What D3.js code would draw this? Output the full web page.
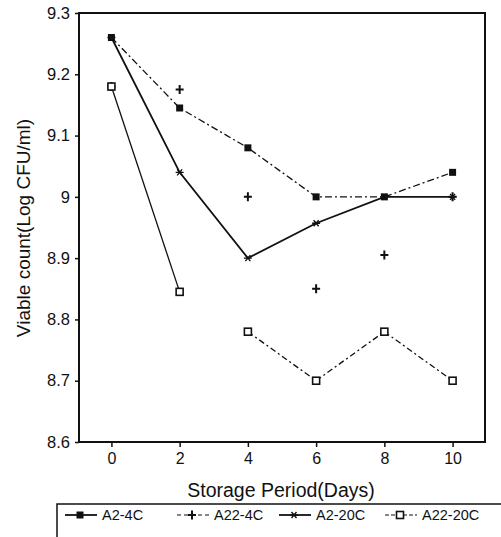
<!DOCTYPE html>
<html>
<head>
<meta charset="utf-8">
<script src="https://cdn.jsdelivr.net/npm/d3@7"></script>
<style>
  body { margin: 0; background: #fff; }
  svg { display: block; font-family: "Liberation Sans", Arial, sans-serif; }
</style>
</head>
<body>
<svg id="chart" width="501" height="537"></svg>
<script>
// storage days and viable counts (log CFU/ml)
const days = [0, 2, 4, 6, 8, 10];
const a2_4c = [9.26, 9.145, 9.08, 9.0, 9.0, 9.04];
const a22_4c = [9.18, 9.175, 9.0, 8.85, 8.905, 9.0];
const a2_20c = [9.26, 9.04, 8.9, 8.957, 9.0, 9.0];
const a22_20c = [9.18, 8.845, 8.78, 8.7, 8.78, 8.7];
const yTicks = [8.6, 8.7, 8.8, 8.9, 9, 9.1, 9.2, 9.3];
const seriesNames = ["A2-4C", "A22-4C", "A2-20C", "A22-20C"];

const svg = d3.select("#chart");
const margin = { left: 79, right: 16, top: 13, bottom: 95 };
const width = 501, height = 537;

const x = d3.scaleLinear().domain([-0.95, 10.95]).range([margin.left, width - margin.right]);
const y = d3.scaleLinear().domain([8.6, 9.3]).range([height - margin.bottom, margin.top]);

const series = [
  { name: seriesNames[0], values: a2_4c, marker: "fsquare", dash: "7,3,2,3", legDash: null, line: true },
  { name: seriesNames[1], values: a22_4c, marker: "plus", dash: "4,4", legDash: "4,3", line: false },
  { name: seriesNames[2], values: a2_20c, marker: "star", dash: null, legDash: null, line: true },
  { name: seriesNames[3], values: a22_20c, marker: "osquare", dash: "6,3,2,3", legDash: "4,2", line: true, breakAfter: 1 },
];

// frame
svg.append("rect")
  .attr("x", x.range()[0]).attr("y", y.range()[1])
  .attr("width", x.range()[1] - x.range()[0])
  .attr("height", y.range()[0] - y.range()[1])
  .attr("fill", "none").attr("stroke", "#111").attr("stroke-width", 2);

// y axis
const yAxis = svg.append("g")
  .attr("transform", `translate(${margin.left},0)`)
  .call(d3.axisLeft(y).tickValues(yTicks).tickFormat(d3.format("~g")).tickSize(4).tickPadding(5));
yAxis.select(".domain").remove();
yAxis.selectAll("line").attr("stroke", "#111").attr("stroke-width", 1.5);
yAxis.selectAll("text").attr("font-size", 16.5).attr("fill", "#111").attr("font-family", "Liberation Sans, Arial");

// x axis
const xAxis = svg.append("g")
  .attr("transform", `translate(0,${height - margin.bottom})`)
  .call(d3.axisBottom(x).tickValues(days).tickSize(5).tickPadding(6));
xAxis.select(".domain").remove();
xAxis.selectAll("line").attr("stroke", "#111").attr("stroke-width", 1.5);
xAxis.selectAll("text").attr("font-size", 16).attr("fill", "#111").attr("font-family", "Liberation Sans, Arial");

// axis titles
svg.append("text")
  .attr("x", 281).attr("y", 497)
  .attr("text-anchor", "middle").attr("font-size", 19.5).attr("fill", "#111")
  .text("Storage Period(Days)");
svg.append("text")
  .attr("transform", `translate(30,228) rotate(-90)`)
  .attr("text-anchor", "middle").attr("font-size", 19).attr("fill", "#111")
  .text("Viable count(Log CFU/ml)");

const line = d3.line().x(d => x(d[0])).y(d => y(d[1]));

function drawMarker(g, type, cx, cy) {
  if (type === "fsquare") {
    g.append("rect").attr("x", cx - 3.5).attr("y", cy - 3.5).attr("width", 7).attr("height", 7).attr("fill", "#111");
  } else if (type === "osquare") {
    g.append("rect").attr("x", cx - 3.5).attr("y", cy - 3.5).attr("width", 7).attr("height", 7)
      .attr("fill", "#fff").attr("stroke", "#111").attr("stroke-width", 1.6);
  } else if (type === "plus") {
    g.append("path").attr("d", `M${cx - 4},${cy}H${cx + 4}M${cx},${cy - 4.5}V${cy + 4.5}`)
      .attr("stroke", "#111").attr("stroke-width", 2);
  } else if (type === "star") {
    g.append("path").attr("d", `M${cx - 4},${cy}H${cx + 4}M${cx - 2.5},${cy - 3}L${cx + 2.5},${cy + 3}M${cx + 2.5},${cy - 3}L${cx - 2.5},${cy + 3}`)
      .attr("stroke", "#111").attr("stroke-width", 1.4);
  }
}

const plot = svg.append("g");
series.forEach(s => {
  const pts = days.map((d, i) => [d, s.values[i]]);
  if (s.line) {
    const parts = s.breakAfter != null
      ? [pts.slice(0, s.breakAfter + 1), pts.slice(s.breakAfter + 1)]
      : [pts];
    parts.forEach((p, k) => {
      plot.append("path")
        .attr("d", line(p))
        .attr("fill", "none")
        .attr("stroke", "#111")
        .attr("stroke-width", s.dash ? 1.3 : 1.8)
        .attr("stroke-dasharray", (s.breakAfter != null && k === 0) ? null : s.dash);
    });
  }
});
series.forEach(s => {
  days.forEach((d, i) => drawMarker(plot, s.marker, x(d), y(s.values[i])));
});

// legend
const leg = svg.append("g");
leg.append("path").attr("d", "M57,537V504H501").attr("fill", "none").attr("stroke", "#111").attr("stroke-width", 1.5);
const legX = [65, 177, 279, 385];
series.forEach((s, i) => {
  const lx = legX[i], ly = 515;
  leg.append("line").attr("x1", lx).attr("x2", lx + 32).attr("y1", ly).attr("y2", ly)
    .attr("stroke", "#111").attr("stroke-width", s.legDash ? 1.2 : 1.8)
    .attr("stroke-dasharray", s.legDash);
  drawMarker(leg, s.marker, lx + 15, ly);
  leg.append("text").attr("x", lx + 37).attr("y", ly + 5)
    .attr("font-size", 14.5).attr("fill", "#111").text(s.name);
});
</script>
</body>
</html>
